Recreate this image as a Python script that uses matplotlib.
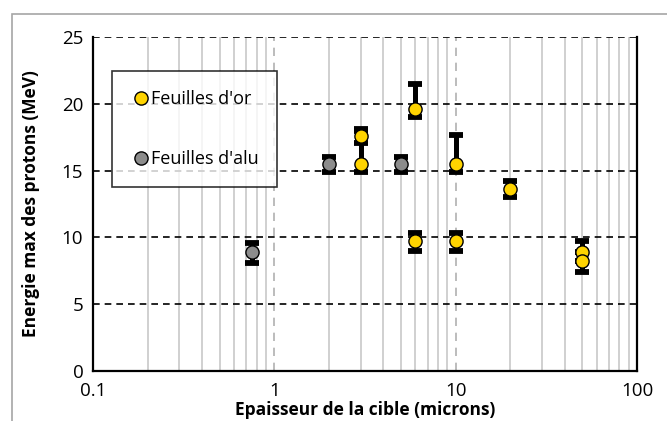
import matplotlib
matplotlib.use("Agg")
import matplotlib.pyplot as plt
from matplotlib.patches import Rectangle
from matplotlib.ticker import FixedLocator, LogLocator, NullFormatter

# Feuilles d'or (gold foils)
gold_x = [3, 3, 6, 6, 10, 10, 20, 50, 50]
gold_y = [15.5, 17.6, 19.6, 9.7, 15.5, 9.7, 13.6, 8.9, 8.2]
gold_err_lo = [0.6, 0.5, 0.6, 0.7, 0.6, 0.7, 0.6, 0.7, 0.8]
gold_err_hi = [2.5, 0.5, 1.9, 0.6, 2.2, 0.6, 0.6, 0.8, 0.7]

# Feuilles d'alu (aluminium foils)
alu_x = [0.75, 2, 5]
alu_y = [8.9, 15.5, 15.5]
alu_err_lo = [0.8, 0.6, 0.6]
alu_err_hi = [0.7, 0.5, 0.5]

x_ticks = [0.1, 1, 10, 100]
x_tick_labels = ["0.1", "1", "10", "100"]
y_ticks = [0, 5, 10, 15, 20, 25]

plt.rcParams["font.family"] = ["Open Sans", "DejaVu Sans"]

fig = plt.figure(figsize=(6.67, 4.21), dpi=100)
ax = fig.add_axes([0.1394, 0.1188, 0.8156, 0.7933])

# outer chart border (Excel style)
fig.patches.append(Rectangle((12 / 667, -0.1), 1.2, (421 - 14) / 421 + 0.1,
                             transform=fig.transFigure, fill=False,
                             edgecolor="#a6a6a6", linewidth=1.2))

ax.set_xscale("log")
ax.set_xlim(0.1, 100)
ax.set_ylim(0, 25)

# grid lines
ax.xaxis.set_major_locator(FixedLocator(x_ticks))
ax.xaxis.set_minor_locator(LogLocator(base=10, subs=range(2, 10)))
ax.xaxis.set_minor_formatter(NullFormatter())
ax.set_xticks(x_ticks)
ax.set_xticklabels(x_tick_labels)
ax.set_yticks(y_ticks)
ax.grid(True, which="minor", axis="x", color="#c8c8c8", linewidth=1.2, linestyle="-")
ax.grid(True, which="major", axis="x", color="#b0b0b0", linewidth=1.2, linestyle=(0, (5, 4)))
ax.grid(True, which="major", axis="y", color="black", linewidth=1.2, linestyle=(0, (4, 3)))
ax.set_axisbelow(True)

for side in ["left", "bottom", "right"]:
    ax.spines[side].set_linewidth(1.6)
ax.spines["top"].set_visible(False)

ax.tick_params(which="both", length=0, labelsize=13.5)
ax.tick_params(axis="x", pad=8)
ax.tick_params(axis="y", pad=7)

err_kw = dict(fmt="none", ecolor="black", elinewidth=3.6, capsize=5.0, capthick=4.2, zorder=3)
ax.errorbar(gold_x, gold_y, yerr=[gold_err_lo, gold_err_hi], **err_kw)
ax.errorbar(alu_x, alu_y, yerr=[alu_err_lo, alu_err_hi], **err_kw)

ax.plot(gold_x, gold_y, "o", color="#ffd400", markeredgecolor="black",
        markeredgewidth=1.0, markersize=9.5, zorder=4, label="Feuilles d'or")
ax.plot(alu_x, alu_y, "o", color="#8c8c8c", markeredgecolor="black",
        markeredgewidth=1.0, markersize=9.5, zorder=4, label="Feuilles d'alu")

leg = ax.legend(loc="upper left", bbox_to_anchor=(0.035, 0.897), fontsize=13,
                frameon=True, fancybox=False, edgecolor="black", handletextpad=0.0,
                labelspacing=2.3, borderpad=1.05, handlelength=1.1, borderaxespad=0)
leg.get_frame().set_linewidth(1.2)

ax.set_xlabel("Epaisseur de la cible (microns)", fontsize=12.5, fontweight="bold", labelpad=1)
ax.set_ylabel("Energie max des protons (MeV)", fontsize=12.5, fontweight="bold", labelpad=16)

fig.savefig("out.png", dpi=100)
